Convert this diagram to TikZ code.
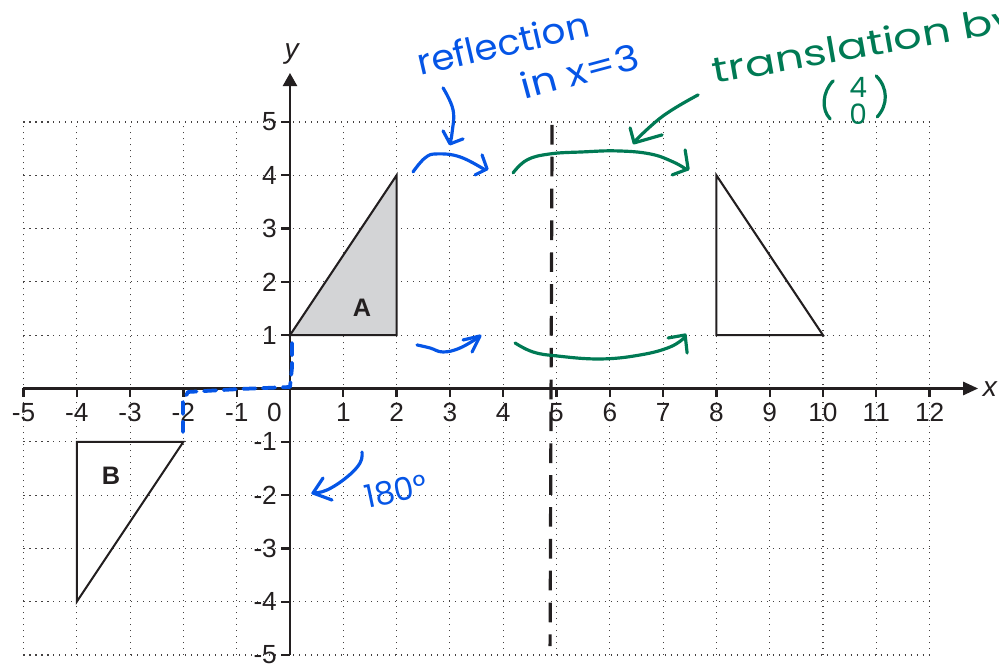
\documentclass[tikz,border=0pt]{standalone}
\usepackage{fontspec}
\setmainfont{Liberation Sans}
\newfontfamily\hand{Poppins}
\usetikzlibrary{arrows.meta}
\definecolor{hblue}{RGB}{5,85,230}
\definecolor{hgreen}{RGB}{0,122,84}
\definecolor{shadeA}{RGB}{211,212,214}
\definecolor{ink}{RGB}{35,31,32}
\begin{document}
\begin{tikzpicture}[
  gridline/.style={line width=0.55pt, draw=ink!85, dash pattern=on 0.55pt off 2.65pt},
  axisline/.style={line width=1.3pt, draw=ink},
  tickmark/.style={line width=1.2pt, draw=ink},
  ticklab/.style={font=\fontsize{14}{14}\selectfont, text=ink, inner sep=0pt},
  axlab/.style={font=\itshape\fontsize{15}{15}\selectfont, text=ink, inner sep=0pt},
  shapeline/.style={line width=1.1pt, draw=ink, line join=miter},
  trilab/.style={font=\bfseries\fontsize{13.5}{13.5}\selectfont, text=ink, inner sep=0pt},
  bluepen/.style={line width=1.7pt, draw=hblue, line cap=round, line join=round},
  greenpen/.style={line width=1.7pt, draw=hgreen, line cap=round, line join=round},
  handtext/.style={font=\hand\fontsize{19}{19}\selectfont, inner sep=0pt},
  px/.style={x=0.018762cm, y=-0.018762cm, shift={(-290,-388.5)}},
]
\useasboundingbox (-5.4409,-5.1689) rectangle (13.3021,7.2889);
% grid
\draw[gridline] (-5,-5) grid (12,5);
% triangles
\filldraw[shapeline, fill=shadeA] (0,1) -- (2,1) -- (2,4) -- cycle;
\draw[shapeline] (8,4) -- (8,1) -- (10,1) -- cycle;
\draw[shapeline] (-4,-1) -- (-2,-1) -- (-4,-4) -- cycle;
\node[trilab] (labA) at (1.35,1.51) {A};
\node[trilab] (labB) at (-3.36,-1.64) {B};
% axes
\draw[axisline, -{Triangle[length=8pt,width=7pt]}] (-5,0) -- (12.91,0);
\draw[axisline, -{Triangle[length=7pt,width=7.5pt]}] (0,-5) -- (0,5.92);
\foreach \x in {-5,...,12} \draw[tickmark] (\x,0) -- (\x,-0.16);
\foreach \y in {-5,...,5} \draw[tickmark] (0,\y) -- (-0.16,\y);
\foreach \x in {-5,...,-1,1,2,...,12} \node[ticklab] (xl\x) at (\x,-0.45) {\x};
\node[ticklab] (xl0) at (-0.29,-0.45) {0};
\foreach \y in {-5,...,-1,1,2,...,5} \node[ticklab, anchor=east] (yl\y) at (-0.24,\y) {\y};
\node[axlab] (xlab) at (13.13,-0.02) {x};
\node[axlab, anchor=base] (ylab) at (0.03,6.2) {y};
% annotations in pixel coordinates
\begin{scope}[px]
  % black dashed mirror line
  \draw[line width=1.7pt, draw=ink, dash pattern=on 10.5pt off 6.5pt] (552,125) -- (550,646);
  % blue dashed rotation path
  \draw[bluepen, line width=2pt, dash pattern=on 6.5pt off 4pt] (292,343) -- (292,368) -- (290,387) -- (240,389) -- (188,392) -- (183,402) -- (183,432);
  % blue arrows
  \draw[bluepen] plot[smooth, tension=0.7] coordinates {(443,88) (453,110) (452,133) (450,143)};
  \draw[bluepen] (443,131) -- (450,144) -- (463,139);
  \draw[bluepen] plot[smooth, tension=0.7] coordinates {(413,172) (425,158) (437,154) (460,157) (485,170)};
  \draw[bluepen] (482,155) -- (487,169) -- (475,175);
  \draw[bluepen] plot[smooth, tension=0.7] coordinates {(417,345) (430,348) (443,352) (460,348) (479,337)};
  \draw[bluepen] (463,340) -- (480,336) -- (472,352);
  \draw[bluepen] plot[smooth, tension=0.7] coordinates {(362,452) (360,463) (347,477) (327,490) (313,493)};
  \draw[bluepen] (323,478) -- (313,493) -- (332,500);
  % green arrows
  \draw[greenpen] plot[smooth, tension=0.7] coordinates {(513,173) (527,160) (550,154) (583,152) (617,151) (650,154) (673,162) (687,170)};
  \draw[greenpen] (685,150) -- (688,169) -- (672,175);
  \draw[greenpen] plot[smooth, tension=0.7] coordinates {(515,343) (533,352) (557,356) (600,359) (640,355) (670,347) (685,337)};
  \draw[greenpen] (668,338) -- (685,335) -- (687,353);
  \draw[greenpen] plot[smooth, tension=0.7] coordinates {(698,95) (663,116) (634,142)};
  \draw[greenpen] (630,128) -- (634,143) -- (662,135);
  % texts
  \node[handtext, text=hblue, rotate=13, xscale=1.05, anchor=base] (refl) at (506,56) {reflection};
  \node[handtext, text=hblue, rotate=15, xscale=1.15, anchor=base] (inx) at (583,84) {in x=3};
  \node[handtext, text=hblue, rotate=12, anchor=base, font=\hand\fontsize{17}{17}\selectfont] (deg) at (398,502) {180°};
  \node[handtext, text=hgreen, rotate=10, xscale=1.26, anchor=base west] (trans) at (714,84) {translation by};
  \node[text=hgreen, inner sep=0pt, font=\hand\fontsize{15}{13}\selectfont] (vec) at (858,101) {\shortstack{4\\0}};
  \draw[greenpen] (833,81) .. controls (822,92) and (821,110) .. (830,119);
  \draw[greenpen] (876,76) .. controls (888,88) and (888,105) .. (877,117);
\end{scope}
\end{tikzpicture}
\end{document}
